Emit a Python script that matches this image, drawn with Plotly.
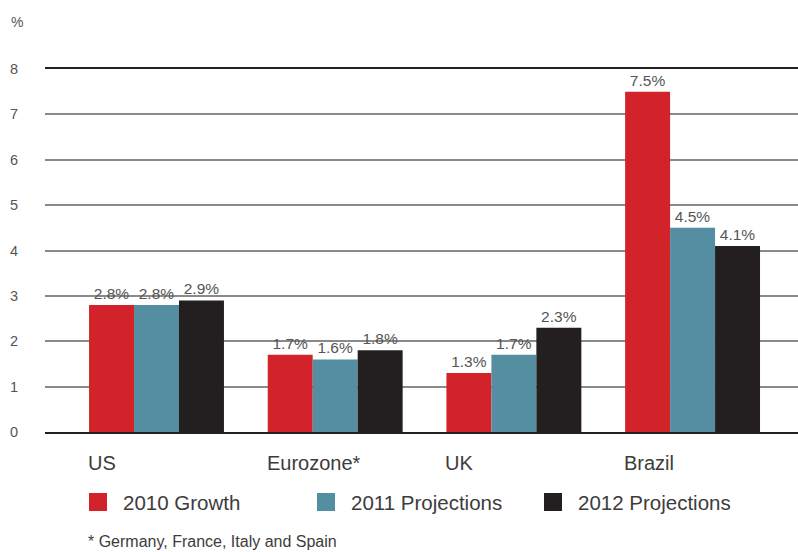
import plotly.graph_objects as go

# GDP growth by economy
regions = ["US", "Eurozone*", "UK", "Brazil"]
series_names = ["2010 Growth", "2011 Projections", "2012 Projections"]
growth_2010 = [2.8, 1.7, 1.3, 7.5]
proj_2011 = [2.8, 1.6, 1.7, 4.5]
proj_2012 = [2.9, 1.8, 2.3, 4.1]
y_ticks = [0, 1, 2, 3, 4, 5, 6, 7, 8]
footnote = "* Germany, France, Italy and Spain"

colors = ["#d2232a", "#548ea0", "#231f20"]
FONT = "Liberation Sans"
TEXT = "#3c3c3c"

W, H = 798, 552
L, R, T, B = 45, 0, 69, 120
pw, ph = W - L - R, H - T - B


def px_x(x):
    return (x - L) / pw


def px_y(y):
    return (H - B - y) / ph


fig = go.Figure()
idx = list(range(len(regions)))
for name, vals, col in zip(series_names, [growth_2010, proj_2011, proj_2012], colors):
    fig.add_trace(go.Bar(
        x=idx, y=vals, name=name, marker=dict(color=col, line=dict(width=0)),
        text=[f"{v:.1f}%" for v in vals], textposition="outside",
        textfont=dict(family=FONT, size=15.5, color="#555555"),
        cliponaxis=False, showlegend=False,
    ))

annotations = []
# category labels, left-aligned with each group's first bar
for i, r in enumerate(regions):
    annotations.append(dict(
        x=i - 0.378, xref="x", xshift=-3, y=px_y(463), yref="paper", text=r,
        showarrow=False, xanchor="left", yanchor="middle",
        font=dict(family=FONT, size=20, color=TEXT),
    ))

# legend drawn as swatches + labels
shapes = []
swatch_x = [89, 317, 544]
for sx, name, col in zip(swatch_x, series_names, colors):
    shapes.append(dict(
        type="rect", xref="paper", yref="paper",
        x0=px_x(sx), x1=px_x(sx + 18), y0=px_y(511), y1=px_y(493),
        fillcolor=col, line=dict(width=0),
    ))
    annotations.append(dict(
        x=px_x(sx + 32), xref="paper", y=px_y(502), yref="paper", text=name,
        showarrow=False, xanchor="left", yanchor="middle",
        font=dict(family=FONT, size=20.5, color=TEXT),
    ))

annotations.append(dict(
    x=px_x(86), xref="paper", y=px_y(541), yref="paper", text=footnote,
    showarrow=False, xanchor="left", yanchor="middle",
    font=dict(family=FONT, size=16, color=TEXT),
))
annotations.append(dict(
    x=px_x(9), xref="paper", y=px_y(22), yref="paper", text="%",
    showarrow=False, xanchor="left", yanchor="middle",
    font=dict(family=FONT, size=14, color="#555555"),
))

fig.update_layout(
    width=W, height=H,
    margin=dict(l=L, r=R, t=T, b=B, pad=0),
    paper_bgcolor="white", plot_bgcolor="white",
    barmode="group", bargap=0.245, bargroupgap=0,
    showlegend=False,
    xaxis=dict(
        range=[-0.624, 3.59], showticklabels=False, showgrid=False,
        zeroline=False, showline=True, mirror=True,
        linecolor="#231f20", linewidth=1.5, ticks="",
    ),
    yaxis=dict(
        range=[0, 8], tickvals=y_ticks, showline=False,
        gridcolor="#8a8a8a", gridwidth=1.5, zeroline=False,
        tickfont=dict(family=FONT, size=14.5, color="#555555"),
        ticks="", ticklabelstandoff=26,
    ),
    annotations=annotations, shapes=shapes,
)

fig.write_html("out.html")
